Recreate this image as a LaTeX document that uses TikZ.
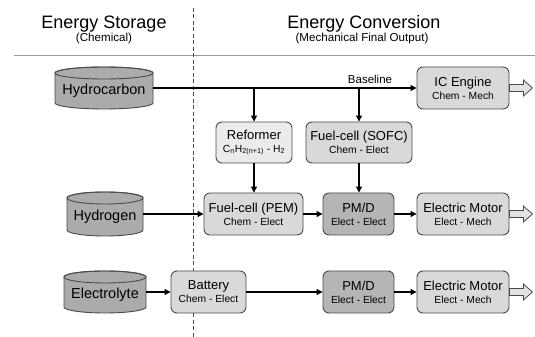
\documentclass[tikz,border=0pt]{standalone}
\usepackage{fontspec}
\setmainfont{Liberation Sans}
\usetikzlibrary{arrows.meta,calc}

\definecolor{edge}{HTML}{4A4A4A}
\definecolor{tankfill}{HTML}{ABABAB}
\definecolor{boxfill}{HTML}{D9D9D9}
\definecolor{reffill}{HTML}{EBEBEB}
\definecolor{pmdfill}{HTML}{B5B5B5}
\definecolor{rulegray}{HTML}{9A9A9A}
\definecolor{outfill}{HTML}{E2E2E2}

\newcommand\fsz[1]{\fontsize{#1}{#1}\selectfont}

\tikzset{
  unit/.style={draw=edge, line width=0.9pt, rounded corners=6pt, fill=boxfill,
    align=center, inner sep=0pt, minimum height=42pt, font=\fsz{13}},
  tankbody/.style={draw=edge, line width=0.9pt, fill=tankfill},
  flow/.style={line width=1.1pt, -{Triangle[length=6pt,width=6pt]}},
  hollow/.style={draw=edge, line width=0.8pt, fill=outfill, line join=miter},
  sub/.style={font=\fsz{10.3}},
}

% storage tank: name, centre x, centre y, width, height, label
\newcommand\tank[6]{%
  \pgfmathsetmacro\tkL{#2-#4/2}\pgfmathsetmacro\tkR{#2+#4/2}%
  \pgfmathsetmacro\tkT{#3+#5/2-6}\pgfmathsetmacro\tkB{#3-#5/2+6}%
  \pgfmathsetmacro\tkRx{#4/2}%
  \path[tankbody] (\tkL,\tkT) -- (\tkL,\tkB)
    arc[start angle=180,end angle=360,x radius=\tkRx,y radius=6]
    -- (\tkR,\tkT)
    arc[start angle=0,end angle=180,x radius=\tkRx,y radius=6] -- cycle;
  \draw[draw=edge, line width=0.9pt] (#2,\tkT) ellipse[x radius=\tkRx, y radius=6];
  \node[minimum width=#4, minimum height=#5, inner sep=0pt] (#1) at (#2,#3) {};
  \node[font=\fsz{14.5}] (#1-label) at (#2,#3-3) {#6};
}

% output arrow leaving a converter
\newcommand\outarrow[1]{%
  \path[hollow] ([yshift=3.5pt]#1.east) -- ++(14,0) -- ++(0,4.5) -- ++(9,-8)
    -- ++(-9,-8) -- ++(0,4.5) -- ++(-14,0) -- cycle;
}

\begin{document}
\begin{tikzpicture}[x=1pt,y=1pt]
\useasboundingbox (0,0) rectangle (535,337);

% headings
\node[font=\fsz{18}] (hstore) at (104,313) {Energy Storage};
\node[font=\fsz{11.6}] (hstoresub) at (104,298.5) {(Chemical)};
\node[font=\fsz{18}] (hconv) at (364,313) {Energy Conversion};
\node[font=\fsz{11.6}] (hconvsub) at (362,298.5) {(Mechanical Final Output)};
\coordinate (ruleL) at (14,282);
\coordinate (ruleR) at (535,282);
\draw[rulegray, line width=0.9pt] (ruleL) -- (ruleR);
\coordinate (divT) at (193,329);
\coordinate (divB) at (193,0);
\draw[edge, line width=0.8pt, dash pattern=on 4pt off 2.5pt] (divT) -- (divB);

% storage
\tank{hc}{104}{249}{98}{42}{Hydrocarbon}
\tank{hy}{105}{123}{76}{44}{Hydrogen}
\tank{el}{105}{45}{82}{42}{Electrolyte}

% converters
\node[unit, minimum width=92pt] (ice) at (463,249)
  {IC Engine\\{\fsz{10.3}Chem - Mech}};
\node[unit, fill=reffill, minimum width=76pt, minimum height=41pt] (ref) at (254,194.5)
  {Reformer\\{\fsz{10.3}C\textsubscript{n}H\textsubscript{2(n+1)} - H\textsubscript{2}}};
\node[unit, minimum width=106pt, minimum height=41pt] (sofc) at (359,194.5)
  {Fuel-cell (SOFC)\\{\fsz{10.3}Chem - Elect}};
\node[unit, minimum width=99pt] (pem) at (253.5,123)
  {Fuel-cell (PEM)\\{\fsz{10.3}Chem - Elect}};
\node[unit, fill=pmdfill, minimum width=71pt] (pmdA) at (358.5,123)
  {PM/D\\{\fsz{10.3}Elect - Elect}};
\node[unit, minimum width=92pt] (motA) at (463,123)
  {Electric Motor\\{\fsz{10.3}Elect - Mech}};
\node[unit, minimum width=75pt] (bat) at (208.5,45)
  {Battery\\{\fsz{10.3}Chem - Elect}};
\node[unit, fill=pmdfill, minimum width=71pt] (pmdB) at (358.5,45)
  {PM/D\\{\fsz{10.3}Elect - Elect}};
\node[unit, minimum width=92pt] (motB) at (463,45)
  {Electric Motor\\{\fsz{10.3}Elect - Mech}};

% flows
\draw[flow] (hc.east) -- (ice.west);
\node[font=\fsz{11.5}] (base) at (370,258) {Baseline};
\coordinate (tapRef) at (ref.north |- hc.east);
\coordinate (tapSofc) at (sofc.north |- hc.east);
\draw[flow] (tapRef) -- (ref.north);
\draw[flow] (tapSofc) -- (sofc.north);
\draw[flow] (ref.south) -- (ref.south |- pem.north);
\draw[flow] (sofc.south) -- (sofc.south |- pmdA.north);
\draw[flow] (hy.east) -- (pem.west);
\draw[flow] (pem.east) -- (pmdA.west);
\draw[flow] (pmdA.east) -- (motA.west);
\draw[flow] (el.east) -- (bat.west);
\draw[flow] (bat.east) -- (pmdB.west);
\draw[flow] (pmdB.east) -- (motB.west);

% mechanical outputs
\outarrow{ice}
\outarrow{motA}
\outarrow{motB}
\end{tikzpicture}
\end{document}
